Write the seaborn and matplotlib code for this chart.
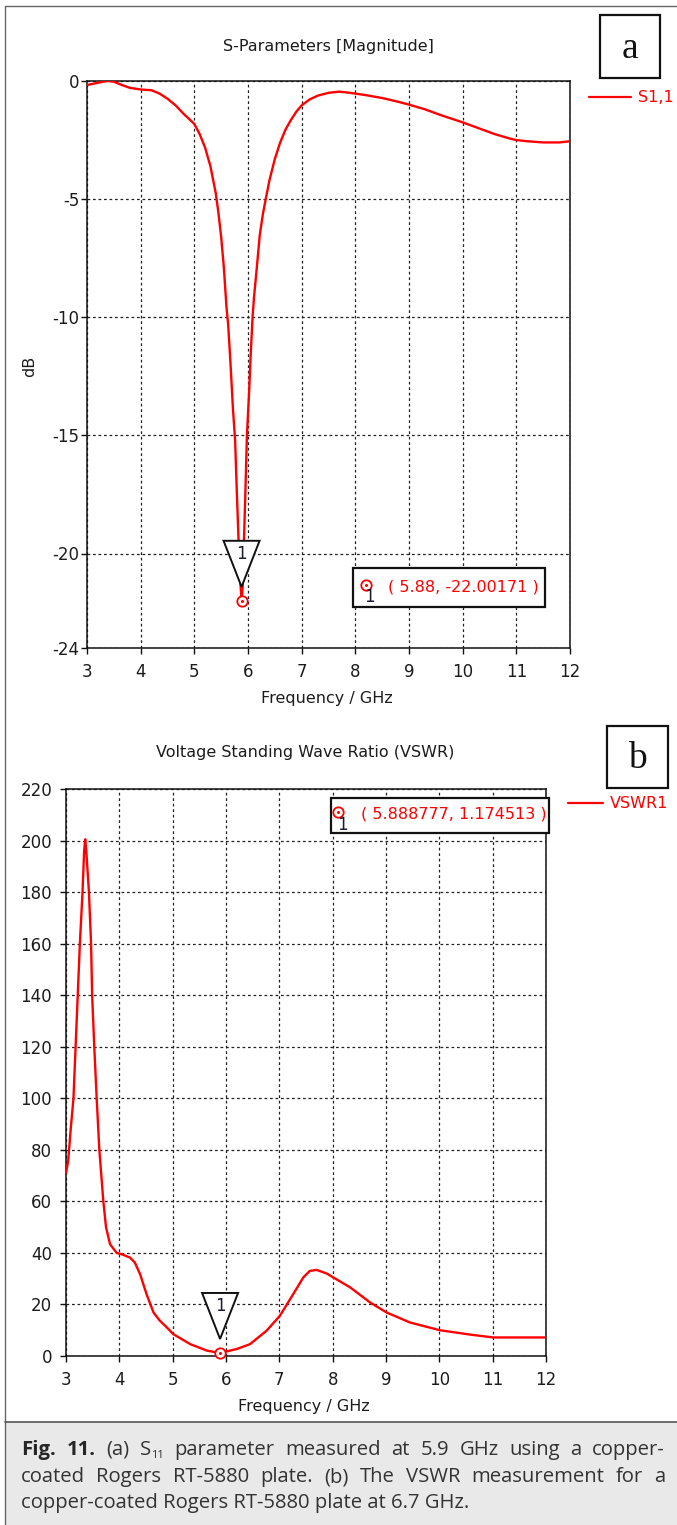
import matplotlib
matplotlib.use("Agg")
import matplotlib.pyplot as plt
import seaborn as sns
import pandas as pd
from matplotlib.patches import Rectangle, Polygon
from matplotlib.lines import Line2D
from matplotlib.transforms import ScaledTranslation

W, H = 677, 1525

# ---- S11 magnitude (dB) versus frequency (GHz) ----
freq_s11 = [3.0, 3.15, 3.3, 3.4, 3.5, 3.65, 3.8, 4.0, 4.2, 4.35, 4.5, 4.65, 4.8,
            4.9, 5.0, 5.1, 5.2, 5.3, 5.4, 5.45, 5.5, 5.55, 5.6, 5.63, 5.67, 5.72,
            5.76, 5.79, 5.83, 5.86, 5.88, 5.9, 5.92, 5.95, 5.98, 6.02, 6.05, 6.085,
            6.11, 6.16, 6.22, 6.28, 6.33, 6.4, 6.5, 6.6, 6.7, 6.8, 6.9, 7.0, 7.15,
            7.3, 7.5, 7.7, 7.9, 8.2, 8.5, 8.8, 9.0, 9.3, 9.6, 10.0, 10.3, 10.6,
            10.9, 11.0, 11.2, 11.5, 11.8, 12.0]
s11_db = [-0.17, -0.1, -0.03, 0.0, -0.03, -0.17, -0.29, -0.36, -0.39, -0.53, -0.75,
          -1.03, -1.39, -1.6, -1.82, -2.25, -2.82, -3.61, -4.76, -5.6, -6.6, -7.9,
          -9.6, -10.3, -11.8, -13.9, -15.2, -17.3, -19.8, -21.3, -22.00171, -21.4,
          -19.8, -17.5, -15.0, -13.2, -11.6, -10.0, -9.2, -8.0, -6.5, -5.6, -5.0,
          -4.2, -3.3, -2.6, -2.05, -1.65, -1.3, -1.03, -0.78, -0.62, -0.5, -0.45,
          -0.5, -0.6, -0.72, -0.88, -1.0, -1.2, -1.45, -1.75, -2.0, -2.25, -2.45,
          -2.5, -2.55, -2.6, -2.6, -2.55]

# ---- VSWR versus frequency (GHz) ----
freq_vswr = [3.0, 3.04, 3.09, 3.14, 3.18, 3.22, 3.26, 3.31, 3.34, 3.36, 3.38, 3.43,
             3.47, 3.49, 3.53, 3.575, 3.625, 3.7, 3.75, 3.825, 3.95, 4.04, 4.2,
             4.29, 4.39, 4.51, 4.64, 4.76, 4.89, 5.01, 5.33, 5.64, 5.888777, 6.2,
             6.45, 6.76, 7.01, 7.26, 7.45, 7.57, 7.7, 7.89, 8.01, 8.33, 8.7, 9.01,
             9.45, 10.01, 10.58, 11.01, 11.5, 12.0]
vswr = [71.0, 75.6, 88.5, 100.0, 120.0, 140.0, 160.0, 180.0, 196.0, 200.5, 196.0,
        180.0, 160.0, 140.0, 120.0, 100.0, 80.0, 60.0, 50.0, 43.4, 40.0, 39.5, 38.2,
        36.3, 31.7, 24.0, 16.9, 13.7, 11.1, 8.5, 4.6, 2.1, 1.174513, 2.7, 4.6, 9.8,
        15.6, 24.0, 30.5, 33.0, 33.4, 32.0, 30.5, 26.6, 20.8, 16.9, 13.0, 10.0, 8.3,
        7.2, 7.2, 7.2]

s11_marker = (5.88, -22.00171)
vswr_marker = (5.888777, 1.174513)

freq_ticks = list(range(3, 13))
s11_ticks = [0, -5, -10, -15, -20, -24]
vswr_ticks = list(range(0, 221, 20))

s11_df = pd.DataFrame({"Frequency": freq_s11, "S1,1": s11_db})
vswr_df = pd.DataFrame({"Frequency": freq_vswr, "VSWR1": vswr})

sns.set_theme(style="white")
plt.rcParams["font.family"] = ["DejaVu Sans"]

RED = "#ff0000"
INK = "#1c1c1c"
TICK_FS = 12
LABEL_FS = 11.5

fig = plt.figure(figsize=(W / 100, H / 100), dpi=100)
fig.patch.set_facecolor("white")


def fx(x):
    return x / W


def fy(y):
    return 1 - y / H


def add_panel(left, top, right, bottom):
    return fig.add_axes([fx(left), fy(bottom), (right - left) / W, (bottom - top) / H])


def style_axes(ax, ylim, yticks, ypad):
    ax.set_xlim(3, 12)
    ax.set_ylim(*ylim)
    ax.set_xticks(freq_ticks)
    ax.set_yticks(yticks)
    ax.set_xticklabels([str(t) for t in freq_ticks])
    ax.set_yticklabels([str(t) for t in yticks])
    ax.grid(True, color="#222222", linestyle=(0, (2.2, 2.2)), linewidth=0.9)
    for s in ax.spines.values():
        s.set_color("#111111")
        s.set_linewidth(1.1)
        s.set_zorder(3)
    ax.tick_params(axis="both", direction="out", length=4, width=1, color="#111111",
                   labelsize=TICK_FS, labelcolor=INK, bottom=True, left=True)
    ax.tick_params(axis="x", pad=7)
    ax.tick_params(axis="y", pad=ypad)
    ax.set_xlabel("")
    ax.set_ylabel("")
    leg = ax.get_legend()
    if leg is not None:
        leg.remove()


def point_marker(ax, x, y):
    ax.plot([x], [y], marker="o", ms=7.5, mfc="white", mec=RED, mew=1.3, zorder=8,
            clip_on=False)
    ax.plot([x], [y], marker="o", ms=2.2, mfc=RED, mec=RED, mew=0, zorder=9,
            clip_on=False)
    tr = fig.dpi_scale_trans + ScaledTranslation(x, y, ax.transData)
    flag = Polygon([(-0.18, 0.60), (0.18, 0.60), (0.0, 0.14)], closed=True,
                   facecolor="white", edgecolor="#111111", linewidth=1.4,
                   transform=tr, zorder=7, clip_on=False)
    ax.add_patch(flag)
    ax.text(0.0, 0.465, "1", transform=tr, ha="center", va="center", fontsize=12,
            color="#1a1a30", zorder=10)


def readout(x0, y0, x1, y1, mx, my, label):
    fig.add_artist(Rectangle((fx(x0), fy(y1)), (x1 - x0) / W, (y1 - y0) / H,
                             facecolor="white", edgecolor="#111111", linewidth=1.6,
                             transform=fig.transFigure, zorder=5))
    fig.add_artist(Line2D([fx(mx)], [fy(my)], marker="o", ms=7.5, mfc="white",
                          mec=RED, mew=1.3, transform=fig.transFigure, zorder=6))
    fig.add_artist(Line2D([fx(mx)], [fy(my)], marker="o", ms=2.2, mfc=RED, mec=RED,
                          mew=0, transform=fig.transFigure, zorder=7))
    fig.text(fx(mx + 4), fy(my + 13), "1", fontsize=12, color="#1a1a30",
             ha="center", va="center", zorder=7)
    fig.text(fx(mx + 23), fy(my + 2), label, fontsize=LABEL_FS, color=RED,
             ha="left", va="center", zorder=7)


def legend_entry(x0, x1, y, tx, label):
    fig.add_artist(Line2D([fx(x0), fx(x1)], [fy(y), fy(y)], color=RED, lw=1.6,
                          transform=fig.transFigure))
    fig.text(fx(tx), fy(y), label, fontsize=LABEL_FS, color=RED, ha="left",
             va="center")


def letter_box(x0, y0, x1, y1, letter):
    fig.add_artist(Rectangle((fx(x0), fy(y1)), (x1 - x0) / W, (y1 - y0) / H,
                             facecolor="white", edgecolor="#111111", linewidth=1.6,
                             transform=fig.transFigure))
    fig.text(fx((x0 + x1) / 2), fy((y0 + y1) / 2 + 2), letter,
             family="Liberation Serif", fontsize=27, color="#111111", ha="center",
             va="center")


# outer frame of the figure
fig.add_artist(Line2D([fx(5), fx(5)], [fy(6), fy(1525)], color="#666666", lw=1.0,
                      transform=fig.transFigure))
fig.add_artist(Line2D([fx(5), fx(677)], [fy(6), fy(6)], color="#666666", lw=1.0,
                      transform=fig.transFigure))

# ---------------- (a) S-parameters ----------------
ax1 = add_panel(87, 81, 570, 648)
sns.lineplot(data=s11_df, x="Frequency", y="S1,1", ax=ax1, color=RED, linewidth=1.7,
             estimator=None, sort=False, zorder=4)
style_axes(ax1, (-24, 0), s11_ticks, 1.5)
point_marker(ax1, *s11_marker)

fig.text(fx(328.5), fy(46.5), "S-Parameters [Magnitude]", fontsize=LABEL_FS,
         color=INK, ha="center", va="center")
fig.text(fx(30), fy(366), "dB", fontsize=LABEL_FS, color=INK, ha="center",
         va="center", rotation=90)
fig.text(fx(327), fy(699), "Frequency / GHz", fontsize=LABEL_FS, color=INK,
         ha="center", va="center")
letter_box(600, 15, 660, 78, "a")
legend_entry(589, 631, 97, 638, "S1,1")
readout(353, 568, 545, 607, 365.5, 584.5, "( 5.88, -22.00171 )")

# ---------------- (b) VSWR ----------------
ax2 = add_panel(66, 789, 546, 1356)
sns.lineplot(data=vswr_df, x="Frequency", y="VSWR1", ax=ax2, color=RED,
             linewidth=1.7, estimator=None, sort=False, zorder=4)
style_axes(ax2, (0, 220), vswr_ticks, 6)
point_marker(ax2, *vswr_marker)

fig.text(fx(305), fy(753), "Voltage Standing Wave Ratio (VSWR)", fontsize=LABEL_FS,
         color=INK, ha="center", va="center")
fig.text(fx(304), fy(1406), "Frequency / GHz", fontsize=LABEL_FS, color=INK,
         ha="center", va="center")
letter_box(607, 726, 668, 788, "b")
legend_entry(568, 603, 803, 610, "VSWR1")
readout(331, 798, 549, 833, 338, 812, "( 5.888777, 1.174513 )")

# ---------------- caption ----------------
fig.add_artist(Rectangle((fx(5), 0), (W - 5) / W, (H - 1422) / H,
                         facecolor="#e9e9e9", edgecolor="none",
                         transform=fig.transFigure, zorder=0))
fig.add_artist(Line2D([fx(5), fx(677)], [fy(1421.5), fy(1421.5)], color="#555555",
                      lw=1.2, transform=fig.transFigure))

CAP = dict(family="Open Sans", fontsize=14.6, color="#333333", va="center")
renderer = fig.canvas.get_renderer()


def seg_props(style):
    p = dict(CAP)
    if style == "b":
        p["fontweight"] = "bold"
        p["color"] = "#262626"
    if style == "sub":
        p["fontsize"] = CAP["fontsize"] * 0.55
    return p


def seg_width(text, style):
    t = fig.text(0, 0, text, **seg_props(style))
    w = t.get_window_extent(renderer).width
    t.remove()
    return w


def justified_line(words, y, x0, x1):
    widths = [sum(seg_width(s, st) for s, st in w) for w in words]
    gap = (x1 - x0 - sum(widths)) / (len(words) - 1)
    x = x0
    for w, wd in zip(words, widths):
        cx = x
        for s, st in w:
            dy = 6 if st == "sub" else 0
            fig.text(fx(cx), fy(y + dy), s, ha="left", **seg_props(st))
            cx += seg_width(s, st)
        x += wd + gap


line1 = [[("Fig.", "b")], [("11.", "b")], [("(a)", "n")], [("S", "n"), ("11", "sub")],
         [("parameter", "n")], [("measured", "n")], [("at", "n")], [("5.9", "n")],
         [("GHz", "n")], [("using", "n")], [("a", "n")], [("copper-", "n")]]
line2 = [[(w, "n")] for w in
         "coated Rogers RT-5880 plate. (b) The VSWR measurement for a".split()]
justified_line(line1, 1450, 21, 665)
justified_line(line2, 1477, 21, 665)
fig.text(fx(21), fy(1503), "copper-coated Rogers RT-5880 plate at 6.7 GHz.",
         ha="left", **CAP)

fig.savefig("out.png", dpi=100)
